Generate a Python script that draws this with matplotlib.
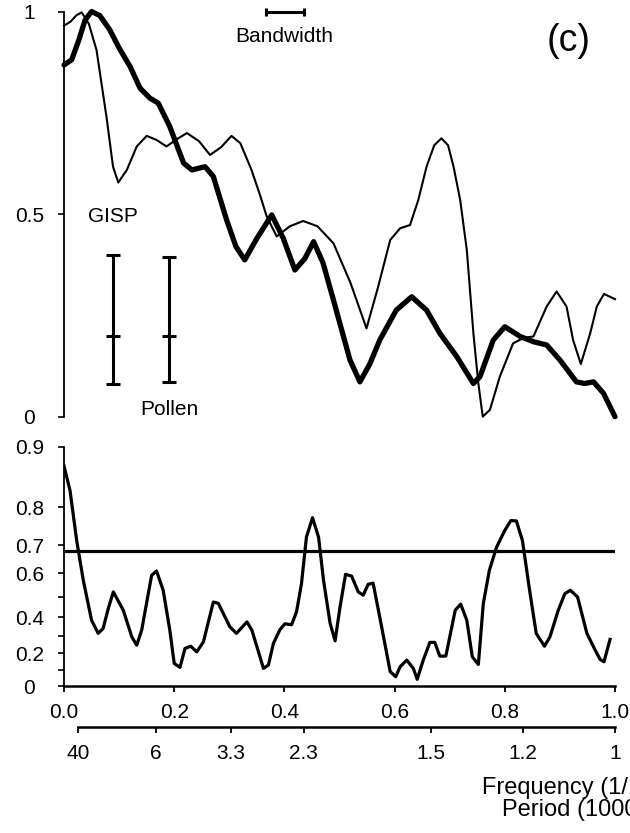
import numpy as np
import matplotlib.pyplot as plt

plt.rcParams['font.family'] = ['Liberation Sans', 'DejaVu Sans']
plt.rcParams['font.size'] = 15

# top panel: normalised spectra (thin = GISP, thick = Pollen)
gisp_f = [0.000, 0.012, 0.022, 0.032, 0.045, 0.059, 0.077, 0.089, 0.0985, 0.114,
          0.132, 0.150, 0.168, 0.186, 0.205, 0.223, 0.245, 0.265, 0.285, 0.304,
          0.320, 0.340, 0.355, 0.368, 0.386, 0.41, 0.434, 0.46, 0.489, 0.52,
          0.549, 0.57, 0.592, 0.61, 0.628, 0.643, 0.658, 0.672, 0.685, 0.697,
          0.707, 0.719, 0.731, 0.743, 0.752, 0.760, 0.773, 0.791, 0.815, 0.835,
          0.852, 0.876, 0.894, 0.912, 0.924, 0.938, 0.955, 0.967, 0.980, 1.0]
gisp_p = [0.965, 0.975, 0.99, 0.998, 0.97, 0.905, 0.741, 0.617, 0.578, 0.609,
          0.667, 0.693, 0.683, 0.667, 0.685, 0.700, 0.680, 0.646, 0.665, 0.693,
          0.675, 0.61, 0.55, 0.494, 0.445, 0.47, 0.483, 0.47, 0.428, 0.33,
          0.218, 0.32, 0.436, 0.465, 0.473, 0.535, 0.617, 0.67, 0.687, 0.67,
          0.617, 0.535, 0.412, 0.206, 0.082, 0.0, 0.017, 0.099, 0.181, 0.195,
          0.198, 0.272, 0.309, 0.272, 0.189, 0.130, 0.206, 0.272, 0.303, 0.290]

pollen_f = [0.000, 0.014, 0.027, 0.038, 0.050, 0.065, 0.083, 0.100, 0.120, 0.138,
            0.156, 0.171, 0.192, 0.217, 0.232, 0.256, 0.271, 0.295, 0.312, 0.328,
            0.350, 0.377, 0.398, 0.419, 0.437, 0.453, 0.470, 0.489, 0.519, 0.537,
            0.555, 0.573, 0.603, 0.631, 0.658, 0.682, 0.713, 0.743, 0.755, 0.779,
            0.800, 0.828, 0.852, 0.876, 0.900, 0.930, 0.945, 0.961, 0.979, 1.0]
pollen_p = [0.868, 0.881, 0.93, 0.978, 1.0, 0.99, 0.955, 0.91, 0.864, 0.811,
            0.786, 0.774, 0.716, 0.626, 0.609, 0.617, 0.593, 0.486, 0.42, 0.387,
            0.44, 0.498, 0.44, 0.362, 0.39, 0.432, 0.38, 0.288, 0.14, 0.086,
            0.13, 0.189, 0.263, 0.296, 0.263, 0.206, 0.148, 0.082, 0.099, 0.189,
            0.222, 0.198, 0.185, 0.177, 0.140, 0.086, 0.082, 0.086, 0.058, 0.0]

# confidence bars (GISP, Pollen)
ci_x = [0.0895, 0.1906]
ci_mid = [0.2, 0.2]
ci_lo = [0.0815, 0.0857]
ci_hi = [0.399, 0.3936]

bw_center = 0.401
bw_half = 0.035

# bottom panel: coherence
coh_f = [0.000, 0.011, 0.023, 0.035, 0.050, 0.062, 0.071, 0.080, 0.0895, 0.1076,
         0.123, 0.132, 0.141, 0.159, 0.168, 0.180, 0.192, 0.200, 0.2105, 0.2196,
         0.230, 0.241, 0.253, 0.271, 0.280, 0.301, 0.313, 0.332, 0.341, 0.362,
         0.371, 0.380, 0.392, 0.401, 0.413, 0.422, 0.431, 0.440, 0.451, 0.462,
         0.471, 0.483, 0.492, 0.501, 0.511, 0.522, 0.534, 0.543, 0.552, 0.561,
         0.573, 0.592, 0.602, 0.610, 0.622, 0.634, 0.641, 0.652, 0.664, 0.673,
         0.682, 0.693, 0.710, 0.720, 0.731, 0.741, 0.752, 0.761, 0.772, 0.785,
         0.800, 0.811, 0.821, 0.832, 0.845, 0.857, 0.872, 0.882, 0.897, 0.909,
         0.919, 0.932, 0.949, 0.964, 0.973, 0.980, 0.991]
coh_v = [0.875, 0.834, 0.714, 0.572, 0.384, 0.313, 0.340, 0.44, 0.522, 0.435,
         0.294, 0.246, 0.331, 0.592, 0.609, 0.529, 0.331, 0.138, 0.114, 0.227,
         0.240, 0.207, 0.265, 0.475, 0.469, 0.349, 0.313, 0.375, 0.331, 0.108,
         0.128, 0.256, 0.334, 0.365, 0.360, 0.427, 0.558, 0.724, 0.776, 0.724,
         0.572, 0.367, 0.271, 0.452, 0.596, 0.589, 0.522, 0.507, 0.555, 0.560,
         0.401, 0.088, 0.057, 0.118, 0.158, 0.108, 0.041, 0.158, 0.262, 0.262,
         0.182, 0.182, 0.435, 0.465, 0.384, 0.178, 0.132, 0.468, 0.612, 0.693,
         0.743, 0.769, 0.768, 0.714, 0.529, 0.313, 0.240, 0.294, 0.435, 0.514,
         0.529, 0.499, 0.313, 0.217, 0.162, 0.148, 0.279]
sig_level = 0.68

freq_ticks = [0.0, 0.2, 0.4, 0.6, 0.8, 1.0]
freq_labels = ['0.0', '0.2', '0.4', '0.6', '0.8', '1.0']
periods = [40, 6, 3.3, 2.3, 1.5, 1.2, 1]
period_labels = ['40', '6', '3.3', '2.3', '1.5', '1.2', '1']

W, H = 630, 833
fig = plt.figure(figsize=(W / 100, H / 100), dpi=100)
ax1 = fig.add_axes([64 / W, (H - 416.7) / H, 551 / W, 405.2 / H])
ax2 = fig.add_axes([64 / W, (H - 686) / H, 551 / W, 239.3 / H])

# ---- top panel
ax1.plot(gisp_f, gisp_p, color='k', lw=1.5, clip_on=False, solid_joinstyle='round')
ax1.plot(pollen_f, pollen_p, color='k', lw=3.8, clip_on=False,
         solid_joinstyle='round', solid_capstyle='round')

ci_mid = np.array(ci_mid)
eb = ax1.errorbar(ci_x, ci_mid, yerr=[ci_mid - np.array(ci_lo), np.array(ci_hi) - ci_mid],
                  fmt='_', ms=10, mew=2.2, color='k', elinewidth=2.2,
                  capsize=4.8, capthick=2.2)

bw = ax1.errorbar([bw_center], [1.0], xerr=[bw_half], fmt='none', ecolor='k',
                  elinewidth=2.2, capsize=2.6, capthick=2.2)
for part in bw.get_children():
    part.set_clip_on(False)

ax1.text(0.400, 0.938, 'Bandwidth', ha='center', va='center')
ax1.text(0.916, 0.926, '(c)', fontsize=27, ha='center', va='center')
ax1.text(0.044, 0.494, 'GISP', ha='left', va='center')
ax1.text(0.138, 0.017, 'Pollen', ha='left', va='center')

ax1.set_xlim(0, 1)
ax1.set_ylim(0, 1)
for s in ['top', 'right', 'bottom']:
    ax1.spines[s].set_visible(False)
ax1.spines['left'].set_linewidth(1.3)
ax1.set_xticks([])
ax1.set_yticks([0, 0.5, 1])
ax1.set_yticklabels(['0', '0.5', '1'])
ax1.tick_params(axis='y', direction='out', length=4, width=1.2, pad=21)
for lab in ax1.get_yticklabels():
    lab.set_horizontalalignment('center')

# ---- bottom panel (coherence on atanh scale)
ax2.set_yscale('function', functions=(np.arctanh, np.tanh))
ax2.plot(coh_f, coh_v, color='k', lw=2.3, solid_joinstyle='round')
ax2.axhline(sig_level, color='k', lw=2.3)
ax2.set_xlim(0, 1)
ax2.set_ylim(0, 0.9)
for s in ['top', 'right']:
    ax2.spines[s].set_visible(False)
ax2.spines['left'].set_linewidth(1.3)
ax2.spines['bottom'].set_linewidth(1.8)
yt = [0, 0.1, 0.2, 0.3, 0.4, 0.5, 0.6, 0.7, 0.8, 0.9]
ax2.set_yticks(yt)
ax2.set_yticklabels(['0', '', '0.2', '', '0.4', '', '0.6', '0.7', '0.8', '0.9'])
ax2.yaxis.set_minor_locator(plt.NullLocator())
ax2.tick_params(axis='y', direction='out', length=4, width=1.2, pad=21)
for lab in ax2.get_yticklabels():
    lab.set_horizontalalignment('center')
ax2.set_xticks(freq_ticks)
ax2.set_xticklabels(freq_labels)
ax2.tick_params(axis='x', direction='out', length=4, width=1.3, pad=8)

# period axis below the frequency axis
ax3 = ax2.twiny()
ax3.set_xlim(0, 1)
ax3.xaxis.set_ticks_position('bottom')
ax3.xaxis.set_label_position('bottom')
for s in ['top', 'right', 'left']:
    ax3.spines[s].set_visible(False)
ax3.spines['bottom'].set_position(('outward', 41 * 0.72))
ax3.spines['bottom'].set_linewidth(1.8)
ax3.spines['bottom'].set_bounds(1 / periods[0], 1 / periods[-1])
ax3.set_xticks([1 / p for p in periods])
ax3.set_xticklabels(period_labels)
ax3.tick_params(axis='x', direction='out', length=4, width=1.3, pad=8)

# axis titles run past the right edge, as in the cropped original
fig.text(481.7 / W, 1 - 787.7 / H, 'Frequency (1/1000 yr)', fontsize=17,
         ha='left', va='center')
fig.text(501.7 / W, 1 - 810 / H, 'Period (1000 yr)', fontsize=17,
         ha='left', va='center')

fig.savefig('out.png', dpi=100)
